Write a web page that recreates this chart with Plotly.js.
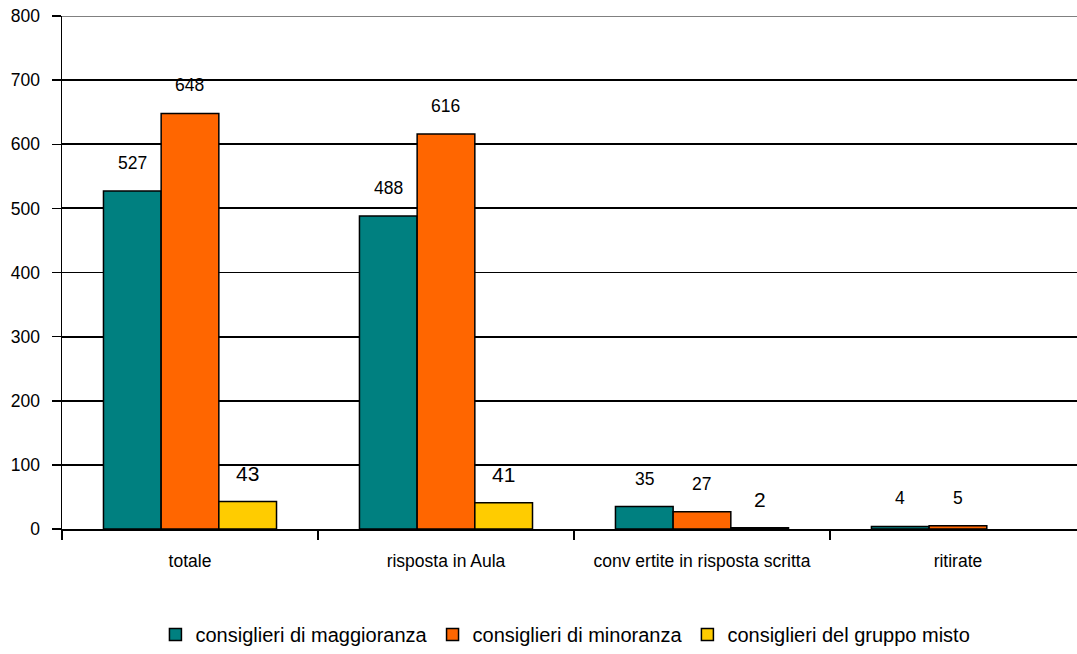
<!DOCTYPE html>
<html><head><meta charset="utf-8">
<script src="https://cdn.plot.ly/plotly-3.0.1.min.js"></script>
<style>html,body{margin:0;padding:0;background:#fff;overflow:hidden}</style>
</head><body><div id="chart" style="width:1077px;height:654px"></div>
<script>
const categories = ["totale", "risposta in Aula", "conv ertite in risposta scritta", "ritirate"];
const seriesNames = ["consiglieri di maggioranza", "consiglieri di minoranza", "consiglieri del gruppo misto"];
const maggioranza = [527, 488, 35, 4];
const minoranza = [648, 616, 27, 5];
const misto = [43, 41, 2, 0];
const yTicks = [0, 100, 200, 300, 400, 500, 600, 700, 800];

const FONT = "'Liberation Sans', Arial, sans-serif";
const colors = ["#008080", "#FF6600", "#FFCC00"];
const allSeries = [maggioranza, minoranza, misto];
const labelSizes = [17.5, 17.5, 21];
const bargap = 0.324;
const catPx = 256;
const barPx = catPx * (1 - bargap) / 3;

const traces = allSeries.map((vals, i) => ({
  type: "bar", name: seriesNames[i], x: categories, y: vals,
  marker: {color: colors[i], line: {color: "#000", width: vals.map(v => v === 0 ? 0 : 1.5)}},
  hoverinfo: "none"
}));

const annotations = [];
allSeries.forEach((vals, i) => {
  vals.forEach((v, k) => {
    if (v === 0) return;
    annotations.push({
      x: categories[k], y: v, xref: "x", yref: "y", text: String(v), showarrow: false,
      xshift: (i - 1) * barPx, yshift: 28, yanchor: "middle",
      font: {family: FONT, size: labelSizes[i], color: "#000"}
    });
  });
});

const layout = {
  width: 1077, height: 654,
  margin: {l: 62, r: 0, t: 16, b: 124},
  paper_bgcolor: "#fff", plot_bgcolor: "#fff",
  barmode: "group", bargap: bargap, bargroupgap: 0,
  font: {family: FONT, color: "#000", size: 17},
  showlegend: true,
  legend: {orientation: "h", x: 0.496, xanchor: "center", y: -0.206, yanchor: "middle",
    font: {size: 20, family: FONT}, itemwidth: 30, tracegroupgap: 0},
  xaxis: {
    type: "category", range: [-0.5, 3.465], tickangle: 0, automargin: false,
    tickson: "boundaries", ticks: "outside", ticklen: 9, tickwidth: 1.5, tickcolor: "#000",
    showline: true, linecolor: "#000", linewidth: 1.5, showgrid: false, zeroline: false,
    ticklabelstandoff: 15, tickfont: {size: 17.5, family: FONT}
  },
  yaxis: {
    range: [0, 800], tickmode: "array", tickvals: yTicks, automargin: false,
    ticks: "outside", ticklen: 9, tickwidth: 1.5, tickcolor: "#000",
    showline: true, linecolor: "#000", linewidth: 1.5,
    showgrid: true, gridcolor: "#000", gridwidth: 1.8, zeroline: false,
    ticklabelstandoff: 8, tickfont: {size: 17.5, family: FONT}
  },
  shapes: [{type: "line", xref: "paper", yref: "y", x0: 0, x1: 1, y0: yTicks[yTicks.length - 1], y1: yTicks[yTicks.length - 1],
    line: {color: "#808080", width: 2}}],
  annotations: annotations
};

Plotly.newPlot("chart", traces, layout, {displayModeBar: false, staticPlot: true});
</script></body></html>
